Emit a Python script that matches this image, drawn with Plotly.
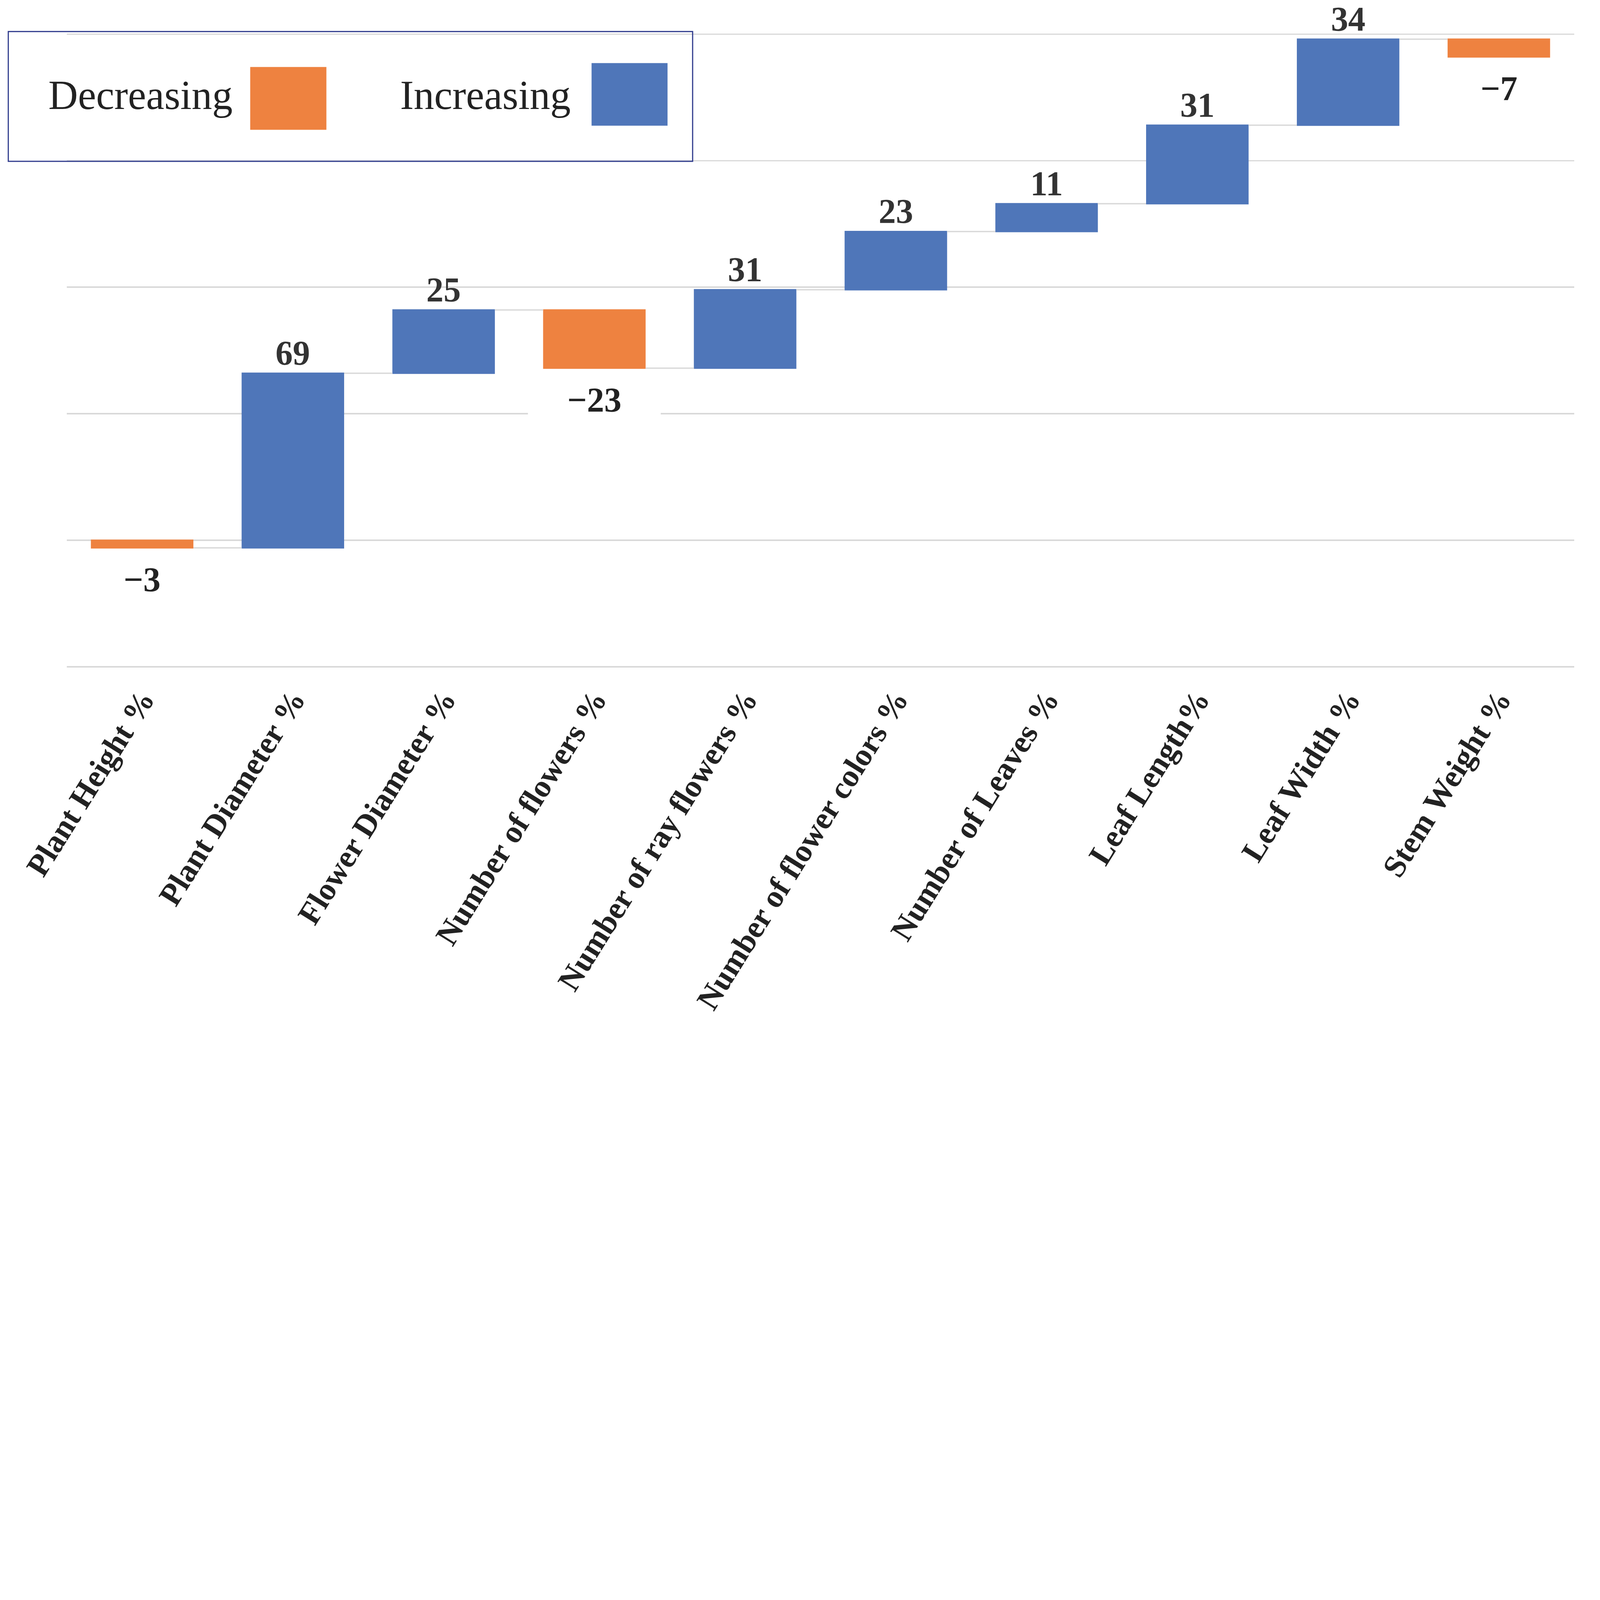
import plotly.graph_objects as go

# ---------------- data ----------------
categories = [
    "Plant Height %", "Plant Diameter %", "Flower Diameter %", "Number of flowers %",
    "Number of ray flowers %", "Number of flower colors %", "Number of Leaves %",
    "Leaf Length%", "Leaf Width %", "Stem Weight %",
]
changes = [-3, 69, 25, -23, 31, 23, 11, 31, 34, -7]
y_ticks = [-50, 0, 50, 100, 150, 200]
legend_labels = ["Decreasing", "Increasing"]

# ---------------- style ----------------
W, H = 6951, 4562
PL, PR, PT, PB = 290, 6839, 145, 2900
BLUE = "#4F76B9"
ORANGE = "#EE8240"
GRID = "#D9D9D9"
SERIF = "Liberation Serif"


def px(xp):
    return (xp - PL) / (PR - PL)


def py(yp):
    return (PB - yp) / (PB - PT)


fig = go.Figure()
fig.add_trace(go.Waterfall(
    x=categories,
    y=changes,
    measure=["relative"] * len(changes),
    decreasing=dict(marker=dict(color=ORANGE, line=dict(width=0))),
    increasing=dict(marker=dict(color=BLUE, line=dict(width=0))),
    connector=dict(mode="between", line=dict(color=GRID, width=6, dash="solid")),
    textposition="none",
    hoverinfo="skip",
    showlegend=False,
))

# data labels, placed at the end of each bar via the axes
annotations = []
running = 0
for cat, v in zip(categories, changes):
    running += v
    txt = str(v).replace("-", "\u2212")
    if v >= 0:
        annotations.append(dict(
            x=cat, y=running, xref="x", yref="y", text=txt, showarrow=False,
            yanchor="bottom", yshift=4,
            font=dict(family=SERIF, size=150, color="#333333", weight="bold"),
        ))
    else:
        annotations.append(dict(
            x=cat, y=running, xref="x", yref="y", text=txt, showarrow=False,
            yanchor="top", yshift=-45, bgcolor="white", borderpad=8, width=560,
            font=dict(family=SERIF, size=150, color="#222222", weight="bold"),
        ))

# custom legend (text, then swatch)
legend_text_x = [208, 1736]
legend_sw = [(1087, 291, 1418, 564, ORANGE), (2570, 274, 2900, 546, BLUE)]
for lab, lx in zip(legend_labels, legend_text_x):
    annotations.append(dict(
        x=px(lx), y=py(413), xref="paper", yref="paper", text=lab, showarrow=False,
        xanchor="left", yanchor="middle",
        font=dict(family=SERIF, size=178, color="#222222"),
    ))

shapes = [dict(
    type="rect", xref="paper", yref="paper",
    x0=px(36), x1=px(3009), y0=py(701), y1=py(137),
    line=dict(color="#2E3A8C", width=5), fillcolor="rgba(0,0,0,0)", layer="above",
)]
for x0, y0, x1, y1, c in legend_sw:
    shapes.append(dict(
        type="rect", xref="paper", yref="paper",
        x0=px(x0), x1=px(x1), y0=py(y1), y1=py(y0),
        line=dict(width=0), fillcolor=c, layer="above",
    ))

fig.update_layout(
    width=W, height=H,
    margin=dict(l=PL, r=W - PR, t=PT, b=H - PB, pad=0),
    paper_bgcolor="white", plot_bgcolor="white",
    waterfallgap=0.32,
    annotations=annotations,
    shapes=shapes,
    xaxis=dict(
        type="category", tickangle=-58, showgrid=False, showline=False, ticks="",
        zeroline=False, ticklabelstandoff=30,
        tickfont=dict(family=SERIF, size=138, color="#222222", weight="bold"),
    ),
    yaxis=dict(
        range=[-50.3, 200.3], tickvals=y_ticks, showticklabels=False,
        showgrid=True, gridcolor=GRID, gridwidth=6, zeroline=False, showline=False,
    ),
)

# scale the fixed-size figure to fit the browser viewport exactly
post = """
document.documentElement.style.margin='0';
document.documentElement.style.overflow='hidden';
document.body.style.margin='0';
document.body.style.overflow='hidden';
var gd = document.getElementById('{plot_id}');
var s = Math.min(window.innerWidth / %d, window.innerHeight / %d);
gd.style.transformOrigin = '0 0';
gd.style.transform = 'scale(' + s + ')';
""" % (W, H)

fig.write_html("out.html", post_script=post, config={"displayModeBar": False})
